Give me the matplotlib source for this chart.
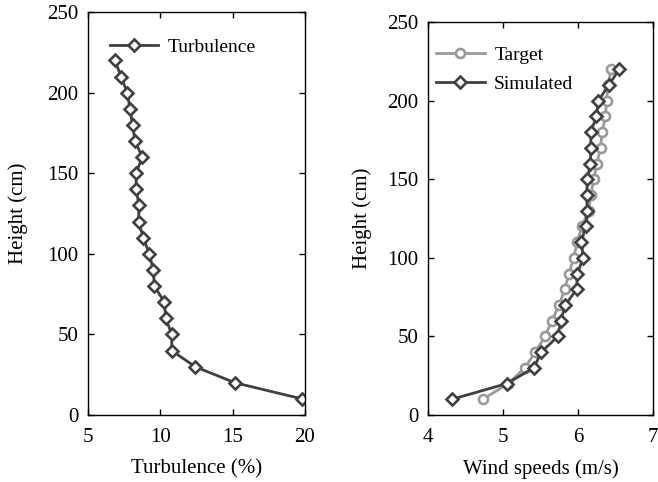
import matplotlib
matplotlib.use("Agg")
import matplotlib.pyplot as plt

# Heights (cm) shared by every profile
heights = [220, 210, 200, 190, 180, 170, 160, 150, 140, 130, 120,
           110, 100, 90, 80, 70, 60, 50, 40, 30, 20, 10]

turbulence = [6.87, 7.28, 7.72, 7.90, 8.09, 8.25, 8.75, 8.32, 8.34, 8.52, 8.50,
              8.83, 9.24, 9.52, 9.59, 10.28, 10.37, 10.80, 10.78, 12.40, 15.16, 19.80]

target_speed = [6.44, 6.40, 6.38, 6.365, 6.32, 6.30, 6.25, 6.21, 6.17, 6.14, 6.05,
                5.99, 5.94, 5.88, 5.82, 5.75, 5.65, 5.56, 5.43, 5.29, 5.07, 4.73]

simulated_speed = [6.55, 6.41, 6.27, 6.245, 6.17, 6.17, 6.165, 6.125, 6.115, 6.125, 6.10,
                   6.045, 6.07, 5.99, 5.98, 5.83, 5.77, 5.73, 5.51, 5.41, 5.05, 4.32]

DARK = "#404040"
LIGHT = "#9a9a9a"

plt.rcParams["font.family"] = ["Liberation Serif", "DejaVu Serif"]
plt.rcParams["font.size"] = 15

fig = plt.figure(figsize=(6.58, 4.82), dpi=100)
ax1 = fig.add_axes([0.1337, 0.139, 0.3298, 0.836])
ax2 = fig.add_axes([0.6505, 0.139, 0.342, 0.815])

marker_kw = dict(markersize=6.5, markeredgewidth=1.9, markerfacecolor="white", linewidth=2.0)
legend_kw = dict(loc="upper left", frameon=False, fontsize=14, handlelength=2.5,
                 handletextpad=0.5, borderpad=0, borderaxespad=0, labelspacing=0.6)

ax1.plot(turbulence, heights, color=DARK, marker="D", markeredgecolor=DARK,
         label="Turbulence", **marker_kw)
ax1.set_xlim(5, 20)
ax1.set_xticks([5, 10, 15, 20])
ax1.set_xlabel("Turbulence (%)", labelpad=9)
ax1.set_ylabel("Height (cm)", labelpad=14)
ax1.legend(bbox_to_anchor=(0.10, 0.935), **legend_kw)

ax2.plot(target_speed, heights, color=LIGHT, marker="o", markeredgecolor=LIGHT,
         label="Target", **marker_kw)
ax2.plot(simulated_speed, heights, color=DARK, marker="D", markeredgecolor=DARK,
         label="Simulated", **marker_kw)
ax2.set_xlim(4, 7)
ax2.set_xticks([4, 5, 6, 7])
ax2.set_xlabel("Wind speeds (m/s)", labelpad=9)
ax2.set_ylabel("Height (cm)", labelpad=11)
ax2.legend(bbox_to_anchor=(0.035, 0.939), **legend_kw)

for ax in (ax1, ax2):
    ax.set_ylim(0, 250)
    ax.set_yticks(range(0, 251, 50))
    ax.tick_params(direction="in", top=True, right=True, length=4, width=1, labelsize=15)
    ax.tick_params(axis="y", pad=7)
    ax.tick_params(axis="x", pad=9)
    for spine in ax.spines.values():
        spine.set_linewidth(1)

fig.savefig("out.png", dpi=100)
